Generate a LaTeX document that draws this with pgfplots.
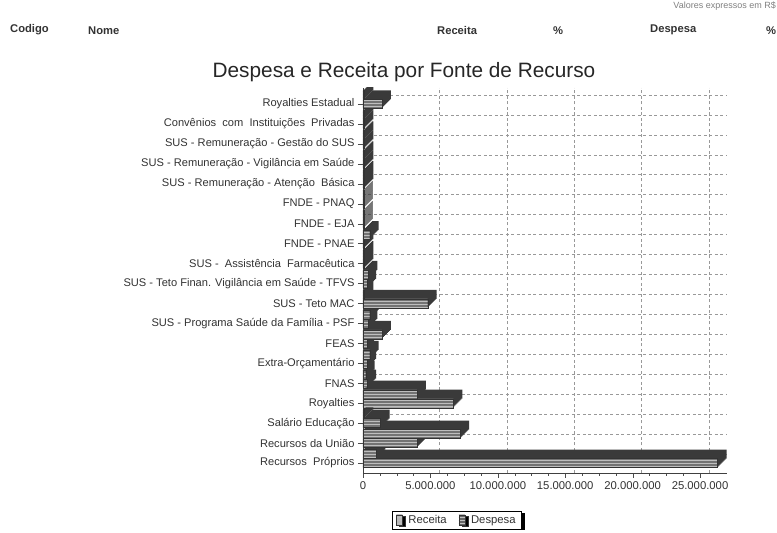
\documentclass[border=0pt]{standalone}
\usepackage{fontspec}
\setmainfont{Liberation Sans}
\usepackage{pgfplots}
\pgfplotsset{compat=1.18}
\usepackage{pgfplotstable}
\usetikzlibrary{patterns,shadows}

\definecolor{frontc}{RGB}{115,115,115}
\definecolor{topc}{RGB}{58,58,58}
\definecolor{stripe}{RGB}{190,190,190}
\definecolor{txt}{RGB}{50,50,50}

\tikzset{depth3d/.style={
  preaction={fill=topc, transform canvas={xshift=9pt,yshift=9pt}},
  preaction={fill=topc, transform canvas={xshift=8pt,yshift=8pt}},
  preaction={fill=topc, transform canvas={xshift=7pt,yshift=7pt}},
  preaction={fill=topc, transform canvas={xshift=6pt,yshift=6pt}},
  preaction={fill=topc, transform canvas={xshift=5pt,yshift=5pt}},
  preaction={fill=topc, transform canvas={xshift=4pt,yshift=4pt}},
  preaction={fill=topc, transform canvas={xshift=3pt,yshift=3pt}},
  preaction={fill=topc, transform canvas={xshift=2pt,yshift=2pt}},
  preaction={fill=topc, transform canvas={xshift=1pt,yshift=1pt}}}}

\pgfplotstableread{
pos rec desp
0  26300000 1000000
1  4000000  7200000
2  1300000  100000
3  6700000  4000000
4  300000   200000
5  300000   500000
6  300000   1400000
7  400000   500000
8  4800000  100000
9  300000   400000
10 100000   100000
11 100000   500000
12 50000    50000
13 50000    50000
14 100000   100000
15 100000   100000
16 100000   100000
17 100000   100000
18 1400000  100000
}\data

\begin{document}
\begin{tikzpicture}[x=1pt,y=1pt]
\begin{axis}[
  scale only axis, width=364pt, height=385pt,
  xmin=0, xmax=27000000, ymin=-0.5, ymax=18.8,
  xbar, bar width=9pt,
  axis x line*=bottom, axis y line*=left,
  axis line style={black!75},
  xtick={0,5000000,10000000,15000000,20000000,25000000},
  xticklabels={0,5.000.000,10.000.000,15.000.000,20.000.000,25.000.000},
  scaled x ticks=false,
  minor x tick num=3,
  ytick={0,1,2,3,4,5,6,7,8,9,10,11,12,13,14,15,16,17,18},
  yticklabels={Recursos\ \ Próprios, Recursos da União, Salário Educação, Royalties, FNAS\hspace{4pt}, Extra-Orçamentário, FEAS, SUS - Programa Saúde da Família - PSF, SUS - Teto MAC, SUS - Teto Finan. Vigilância em Saúde - TFVS, SUS -\ \ Assistência\ \ Farmacêutica, FNDE - PNAE, FNDE - EJA, FNDE - PNAQ, SUS - Remuneração - Atenção\ \ Básica, SUS - Remuneração - Vigilância em Saúde, SUS - Remuneração - Gestão do SUS, Convênios\ \ com\ \ Instituições\ \ Privadas, Royalties Estadual},
  tick align=outside,
  major tick length=5pt, minor tick length=3pt,
  tick style={black!70},
  yticklabel style={font=\fontsize{11.1}{12}\selectfont, text=txt},
  xticklabel style={font=\fontsize{11.3}{12}\selectfont, text=txt},
  /pgf/number format/assume math mode=true,
  extra x ticks={5668000,10668000,15668000,20668000,25668000},
  extra x tick labels={},
  extra x tick style={grid=major, major tick length=0pt},
  extra y ticks={0.45,1.45,2.45,3.45,4.45,5.45,6.45,7.45,8.45,9.45,10.45,11.45,12.45,13.45,14.45,15.45,16.45,17.45,18.45},
  extra y tick labels={},
  extra y tick style={grid=major, major tick length=0pt},
  major grid style={gray!80, dash pattern=on 3pt off 2.5pt, line width=0.6pt},
  legend style={at={(axis description cs:0.258,-0.122)}, anchor=center, legend columns=2,
    draw=black, fill=white, font=\fontsize{11.3}{12}\selectfont, text=txt,
    inner xsep=4pt, inner ysep=2pt,
    drop shadow={shadow xshift=3pt, shadow yshift=-1.5pt, fill=black, opacity=1},
    /tikz/every even column/.append style={column sep=10pt}},
]
% 3D depth (dark top/side faces), drawn behind all fronts
\addplot[fill=none, draw=none, bar shift=0pt, depth3d, forget plot] table[x=rec,y=pos]{\data};
\addplot[fill=none, draw=none, bar shift=9pt, depth3d, forget plot] table[x=desp,y=pos]{\data};
% front faces
\addplot[fill=frontc, draw=black!80, line width=0.3pt, bar shift=0pt,
  postaction={pattern=horizontal lines, pattern color=stripe},
  legend image code/.code={\draw[fill=gray!55, draw=black!80] (0pt,-5pt) rectangle (6pt,5pt); \path (10pt,0pt);}]
  table[x=rec,y=pos]{\data};
\addplot[fill=frontc, draw=black!80, line width=0.3pt, bar shift=9pt,
  postaction={pattern=horizontal lines, pattern color=stripe},
  legend image code/.code={\draw[fill=gray!80!black, draw=black!80] (0pt,-5pt) rectangle (6pt,5pt); \path (10pt,0pt);}]
  table[x=desp,y=pos]{\data};
\legend{Receita, Despesa}
\draw[black!60, line width=0.6pt] (rel axis cs:1,0.02) -- (rel axis cs:1,1);
\coordinate (O) at (rel axis cs:0,0);
\end{axis}
\pgfresetboundingbox
\path[use as bounding box] ([shift={(-363pt,-60pt)}]O) rectangle ([shift={(414pt,473pt)}]O);
\begin{scope}[shift={([shift={(-363pt,-60pt)}]O)}]
\node[anchor=east, inner sep=0pt, font=\fontsize{9}{10}\selectfont, text=gray] at (776,527) {Valores expressos em R\$};
\begin{scope}[every node/.style={inner sep=0pt, font=\fontsize{11.2}{12}\selectfont\bfseries, text=txt}]
\node[anchor=west] at (10,503) {Codigo};
\node[anchor=west] at (88,502) {Nome};
\node[anchor=west] at (437,502) {Receita};
\node at (558,502) {\%};
\node[anchor=west] at (650,503) {Despesa};
\node at (771,502) {\%};
\end{scope}
\node[inner sep=0pt, font=\fontsize{20.8}{22}\selectfont, text=black!85] at (404,461) {Despesa e Receita por Fonte de  Recurso};
\end{scope}
\end{tikzpicture}
\end{document}
